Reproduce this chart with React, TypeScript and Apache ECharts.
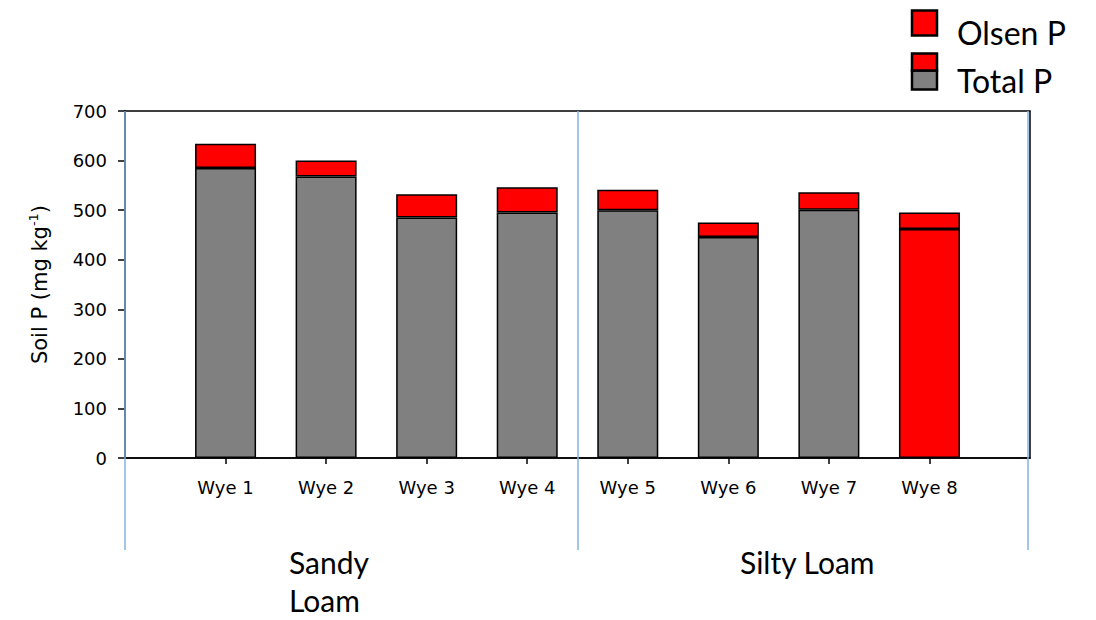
import React, { useEffect, useRef } from 'react';
import * as echarts from 'echarts';

const categories = ['Wye 1', 'Wye 2', 'Wye 3', 'Wye 4', 'Wye 5', 'Wye 6', 'Wye 7', 'Wye 8'];
const totalP = [585, 568, 485, 495, 500, 446, 501, 462];
const olsenP = [49, 32, 47, 51, 41, 29, 35, 33];
const redTotalCategories = ['Wye 8'];
const groupLabels = ['Sandy\nLoam', 'Silty Loam'];
const legendLabels = ['Olsen P', 'Total P'];
const yMin = 0;
const yMax = 700;
const yInterval = 100;

export default function App() {
  const ref = useRef<HTMLDivElement>(null);
  useEffect(() => {
    if (!ref.current) return;
    const chart = echarts.init(ref.current, null, { renderer: 'svg' });
    const xData = ['', ...categories, ''];
    const totalData: any[] = ['-', ...totalP.map((v, i) =>
      redTotalCategories.includes(categories[i]) ? { value: v, itemStyle: { color: '#FF0000' } } : v
    ), '-'];
    const olsenData: any[] = ['-', ...olsenP, '-'];
    const blue = '#86B3E0';
    const lineTop = 111;
    const lineBottom = 550;
    const option: any = {
      animation: false,
      backgroundColor: '#ffffff',
      grid: {
        left: 125, right: 66, top: 111, bottom: 162,
        show: true, borderColor: '#000', borderWidth: 1.5, backgroundColor: 'transparent',
      },
      xAxis: {
        type: 'category',
        data: xData,
        boundaryGap: false,
        axisLine: { show: true, lineStyle: { color: '#000', width: 1.5 } },
        axisTick: {
          show: true, length: 6, lineStyle: { color: '#000', width: 1.5 },
          interval: (idx: number) => idx > 0 && idx < xData.length - 1,
        },
        axisLabel: {
          interval: 0, margin: 20, color: '#000',
          fontFamily: 'DejaVu Sans', fontSize: 18,
        },
        splitLine: { show: false },
      },
      yAxis: {
        type: 'value',
        min: yMin, max: yMax, interval: yInterval,
        axisLine: { show: true, lineStyle: { color: '#000', width: 1.5 } },
        axisTick: { show: true, length: 7, lineStyle: { color: '#000', width: 1.5 } },
        axisLabel: { margin: 18, color: '#000', fontFamily: 'DejaVu Sans', fontSize: 18 },
        splitLine: { show: false },
        name: '{a|Soil P (mg kg}{b|-1}{a|)}',
        nameLocation: 'middle',
        nameRotate: 90,
        nameGap: 72,
        nameTextStyle: {
          rich: {
            a: { fontFamily: 'DejaVu Sans', fontSize: 21, color: '#000', lineHeight: 26 },
            b: { fontFamily: 'DejaVu Sans', fontSize: 13, color: '#000', verticalAlign: 'top', lineHeight: 26, padding: [0, 0, 10, 0] },
          },
        },
      },
      series: [
        {
          name: 'Total P', type: 'bar', stack: 'p', barWidth: 61,
          data: totalData,
          itemStyle: { color: '#808080', borderColor: '#000', borderWidth: 1.5 },
        },
        {
          name: 'Olsen P', type: 'bar', stack: 'p', barWidth: 61,
          data: olsenData,
          itemStyle: { color: '#FF0000', borderColor: '#000', borderWidth: 1.5 },
        },
      ],
      graphic: [
        { type: 'line', shape: { x1: 125, y1: lineTop, x2: 125, y2: lineBottom }, style: { stroke: blue, lineWidth: 1.5 }, z: 100 },
        { type: 'line', shape: { x1: 578, y1: lineTop, x2: 578, y2: lineBottom }, style: { stroke: blue, lineWidth: 1.5 }, z: 100 },
        { type: 'line', shape: { x1: 1028, y1: lineTop, x2: 1028, y2: lineBottom }, style: { stroke: blue, lineWidth: 1.5 }, z: 100 },
        {
          type: 'text', left: 289, top: 543, z: 100,
          style: { text: groupLabels[0], fontFamily: 'Lato', fontSize: 30, fill: '#000', lineHeight: 38, align: 'left' },
        },
        {
          type: 'text', left: 740, top: 543, z: 100,
          style: { text: groupLabels[1], fontFamily: 'Lato', fontSize: 30, fill: '#000', lineHeight: 38, align: 'left' },
        },
        { type: 'rect', shape: { x: 912, y: 10.5, width: 25, height: 25 }, style: { fill: '#FF0000', stroke: '#000', lineWidth: 2.5 }, z: 100 },
        { type: 'rect', shape: { x: 912, y: 70.5, width: 25, height: 19 }, style: { fill: '#808080', stroke: '#000', lineWidth: 2.5 }, z: 100 },
        { type: 'rect', shape: { x: 912, y: 53.5, width: 25, height: 17 }, style: { fill: '#FF0000', stroke: '#000', lineWidth: 2.5 }, z: 101 },
        {
          type: 'text', left: 957, top: 16, z: 100,
          style: { text: legendLabels[0], fontFamily: 'Lato', fontSize: 32, fill: '#000' },
        },
        {
          type: 'text', left: 957, top: 64, z: 100,
          style: { text: legendLabels[1], fontFamily: 'Lato', fontSize: 32, fill: '#000' },
        },
      ],
    };
    chart.setOption(option);
    return () => chart.dispose();
  }, []);
  return <div ref={ref} style={{ position: 'fixed', left: 0, top: 0, width: 1096, height: 620 }} />;
}
